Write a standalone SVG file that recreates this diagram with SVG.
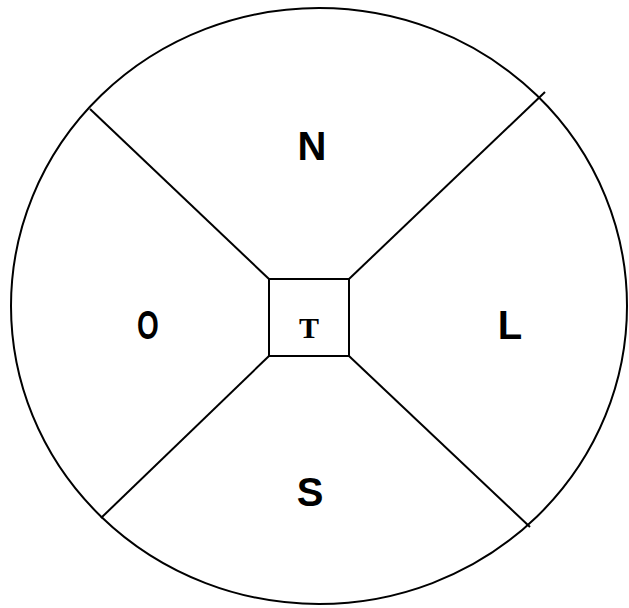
<svg xmlns="http://www.w3.org/2000/svg" width="629" height="608" viewBox="0 0 629 608">
<style>
.ln{stroke:#000;stroke-width:2;fill:none}
.lbl{font-family:"Liberation Sans",Arial,sans-serif;font-weight:bold;font-size:40px;fill:#000;text-anchor:middle}
.t{font-family:"Liberation Serif","Times New Roman",serif;font-weight:bold;font-size:30px;fill:#000;text-anchor:middle}
</style>
<rect width="629" height="608" fill="#fff"/>
<g id="circle"><ellipse class="ln" cx="319" cy="306" rx="308" ry="298"/></g>
<g id="connectors">
<line class="ln" x1="269" y1="279" x2="90" y2="109"/>
<line class="ln" x1="349" y1="279" x2="545" y2="92"/>
<line class="ln" x1="269" y1="356" x2="101" y2="518"/>
<line class="ln" x1="349" y1="356" x2="530" y2="527"/>
</g>
<g id="T"><rect class="ln" x="269" y="279" width="80" height="77"/><text class="t" x="309" y="338">T</text></g>
<g id="N"><text class="lbl" x="312" y="160">N</text></g>
<g id="O"><text class="lbl" x="148" y="339" transform="translate(148 0) scale(0.7 1) translate(-148 0)">O</text></g>
<g id="L"><text class="lbl" x="510" y="339">L</text></g>
<g id="S"><text class="lbl" x="310" y="506">S</text></g>
</svg>
